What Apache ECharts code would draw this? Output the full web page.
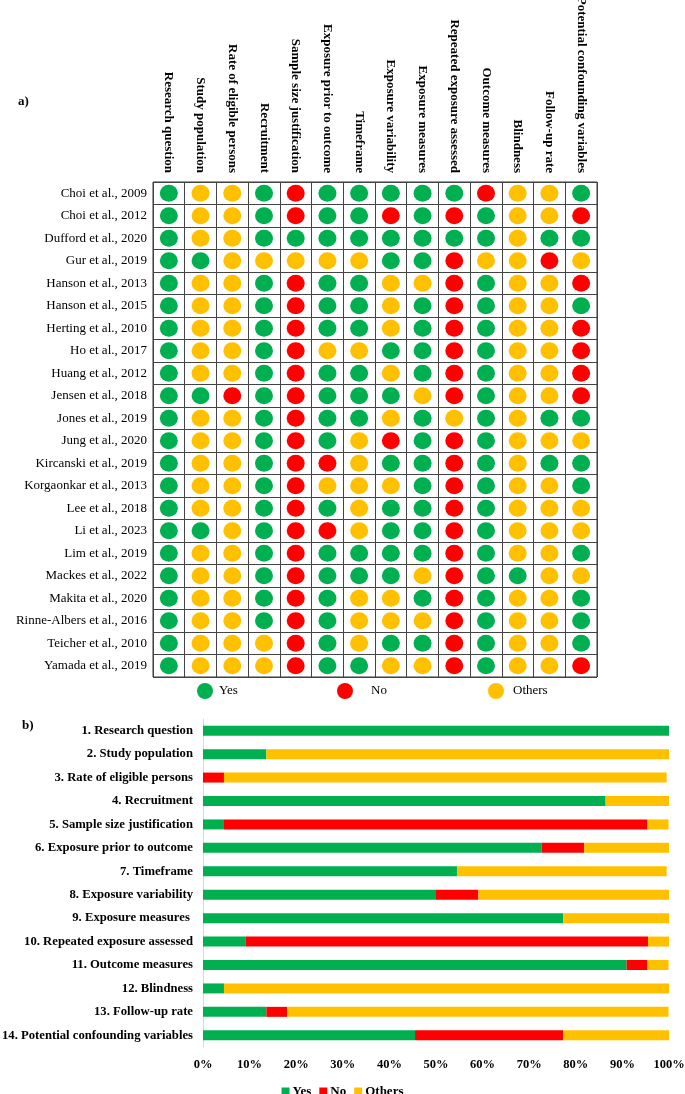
<!DOCTYPE html>
<html>
<head>
<meta charset="utf-8">
<script src="https://cdn.jsdelivr.net/npm/echarts@6/dist/echarts.min.js"></script>
<style>
html,body{margin:0;padding:0;background:#fff;}
#chart{width:685px;height:1094px;}
</style>
</head>
<body>
<div id="chart"></div>
<script>
// ---- Panel a) data ----
const criteria = ['Research question','Study population','Rate of eligible persons','Recruitment',
  'Sample size justification','Exposure prior to outcome','Timeframe','Exposure variability',
  'Exposure measures','Repeated exposure assessed','Outcome measures','Blindness',
  'Follow-up rate','Potential confounding variables'];
const studies = ['Choi et al., 2009','Choi et al., 2012','Dufford et al., 2020','Gur et al., 2019',
  'Hanson et al., 2013','Hanson et al., 2015','Herting et al., 2010','Ho et al., 2017',
  'Huang et al., 2012','Jensen et al., 2018','Jones et al., 2019','Jung et al., 2020',
  'Kircanski et al., 2019','Korgaonkar et al., 2013','Lee et al., 2018','Li et al., 2023',
  'Lim et al., 2019','Mackes et al., 2022','Makita et al., 2020','Rinne-Albers et al., 2016',
  'Teicher et al., 2010','Yamada et al., 2019'];
// Y = Yes, N = No, O = Others (one string per study, one letter per criterion)
const ratings = [
  'YOOYNYYYYYNOOY',
  'YOOYNYYNYNYOON',
  'YOOYYYYYYYYOYY',
  'YYOOOOOYYNOONO',
  'YOOYNYYOONYOON',
  'YOOYNYYOYNYOOY',
  'YOOYNYYOYNYOON',
  'YOOYNOOYYNYOON',
  'YOOYNYYOYNYOON',
  'YYNYNYYYONYOON',
  'YOOYNYYOYOYOYY',
  'YOOYNYONYNYOOO',
  'YOOYNNOYYNYOYY',
  'YOOYNOOOYNYOOY',
  'YOOYNYOYYNYOOO',
  'YYOYNNOYYNYOOO',
  'YOOYNYYYYNYOOY',
  'YOOYNYYYONYYOO',
  'YOOYNYOOYNYOOY',
  'YOOYNYOOONYOOY',
  'YOOONYOYYNYOOY',
  'YOOONYYOONYOON'
];
// ---- Panel b) data (percent) ----
const barCategories = ['1. Research question','2. Study population','3. Rate of eligible persons',
  '4. Recruitment','5. Sample size justification','6. Exposure prior to outcome','7. Timeframe',
  '8. Exposure variability','9. Exposure measures ','10. Repeated exposure assessed',
  '11. Outcome measures','12. Blindness','13. Follow-up rate','14. Potential confounding variables'];
const barYes    = [100, 13.6, 0,   86.4, 4.5,  72.7, 54.5, 50,   77.3, 9.1,  90.9, 4.5,  13.6, 45.5];
const barNo     = [0,   0,    4.5, 0,    90.9, 9.1,  0,    9.1,  0,    86.4, 4.5,  0,    4.5,  31.8];
const barOthers = [0,   86.4, 95,  13.6, 4.5,  18.2, 45,   40.9, 22.7, 4.5,  4.5,  95.5, 81.8, 22.7];

const COLORS = {Yes:'#00B050', No:'#FF0000', Others:'#FFC000'};
const CODE = {Y:'Yes', N:'No', O:'Others'};
const SERIF = '"Liberation Serif","Times New Roman",serif';

function pointsFor(code){
  const out = [];
  ratings.forEach((row, r) => {
    for (let c = 0; c < row.length; c++) if (row[c] === code) out.push([c, r]);
  });
  return out;
}

const chart = echarts.init(document.getElementById('chart'), null, {renderer:'canvas'});
const lineStyle = {color:'#444', width:1};

const option = {
  animation:false,
  backgroundColor:'#fff',
  title:[
    {text:'a)', left:13, top:90, textStyle:{fontFamily:SERIF, fontSize:13, fontWeight:'bold', color:'#000'}},
    {text:'b)', left:17, top:714, textStyle:{fontFamily:SERIF, fontSize:13, fontWeight:'bold', color:'#000'}}
  ],
  legend:[
    {data:[{name:'Yes', icon:'circle'}], left:192, top:678, itemWidth:18, itemHeight:16, selectedMode:false,
      textStyle:{fontFamily:SERIF, fontSize:13, color:'#000'}},
    {data:[{name:'No', icon:'circle'}], left:332, top:678, itemWidth:18, itemHeight:16, selectedMode:false,
      textStyle:{fontFamily:SERIF, fontSize:13, color:'#000', padding:[0,0,0,12]}},
    {data:[{name:'Others', icon:'circle'}], left:483, top:678, itemWidth:18, itemHeight:16, selectedMode:false,
      textStyle:{fontFamily:SERIF, fontSize:13, color:'#000', padding:[0,0,0,3]}},
    {data:[{name:'Yes', icon:'rect'},{name:'No', icon:'rect'},{name:'Others', icon:'rect'}],
      left:'center', top:1080, itemWidth:8, itemHeight:8, itemGap:8, selectedMode:false,
      textStyle:{fontFamily:SERIF, fontSize:13, fontWeight:'bold', color:'#000', padding:[0,0,0,-2]}}
  ],
  grid:[
    {left:153, right:88, top:182, bottom:417, show:true, borderColor:'#333', borderWidth:1,
      containLabel:false, outerBoundsMode:'none'},
    {left:203, right:16, top:719, bottom:47, containLabel:false, outerBoundsMode:'none'}
  ],
  xAxis:[
    {gridIndex:0, type:'category', data:criteria, position:'top',
      axisLine:{show:false}, axisTick:{show:false},
      splitLine:{show:true, lineStyle:lineStyle},
      axisLabel:{rotate:90, margin:9, interval:0, fontFamily:SERIF, fontSize:13, fontWeight:'bold', color:'#000'}},
    {gridIndex:1, type:'value', min:0, max:100, interval:10,
      axisLine:{show:false}, axisTick:{show:false}, splitLine:{show:false},
      axisLabel:{formatter:'{value}%', margin:11, fontFamily:SERIF, fontSize:12.5, fontWeight:'bold', color:'#000'}}
  ],
  yAxis:[
    {gridIndex:0, type:'category', data:studies, inverse:true,
      axisLine:{show:false}, axisTick:{show:false},
      splitLine:{show:true, lineStyle:lineStyle},
      axisLabel:{margin:6, interval:0, fontFamily:SERIF, fontSize:13, color:'#000'}},
    {gridIndex:1, type:'category', data:barCategories, inverse:true,
      axisLine:{show:true, lineStyle:{color:'#D9D9D9', width:1}}, axisTick:{show:false},
      axisLabel:{margin:10, interval:0, fontFamily:SERIF, fontSize:12.7, fontWeight:'bold', color:'#000'}}
  ],
  series:[
    ...['Y','N','O'].map(code => ({
      name:CODE[code], type:'scatter', xAxisIndex:0, yAxisIndex:0,
      symbol:'circle', symbolSize:[18,17],
      itemStyle:{color:COLORS[CODE[code]], opacity:1},
      data:pointsFor(code)
    })),
    {name:'Yes', type:'bar', stack:'b', xAxisIndex:1, yAxisIndex:1, barWidth:10,
      itemStyle:{color:COLORS.Yes}, data:barYes},
    {name:'No', type:'bar', stack:'b', xAxisIndex:1, yAxisIndex:1, barWidth:10,
      itemStyle:{color:COLORS.No}, data:barNo},
    {name:'Others', type:'bar', stack:'b', xAxisIndex:1, yAxisIndex:1, barWidth:10,
      itemStyle:{color:COLORS.Others}, data:barOthers}
  ]
};
chart.setOption(option);
</script>
</body>
</html>
